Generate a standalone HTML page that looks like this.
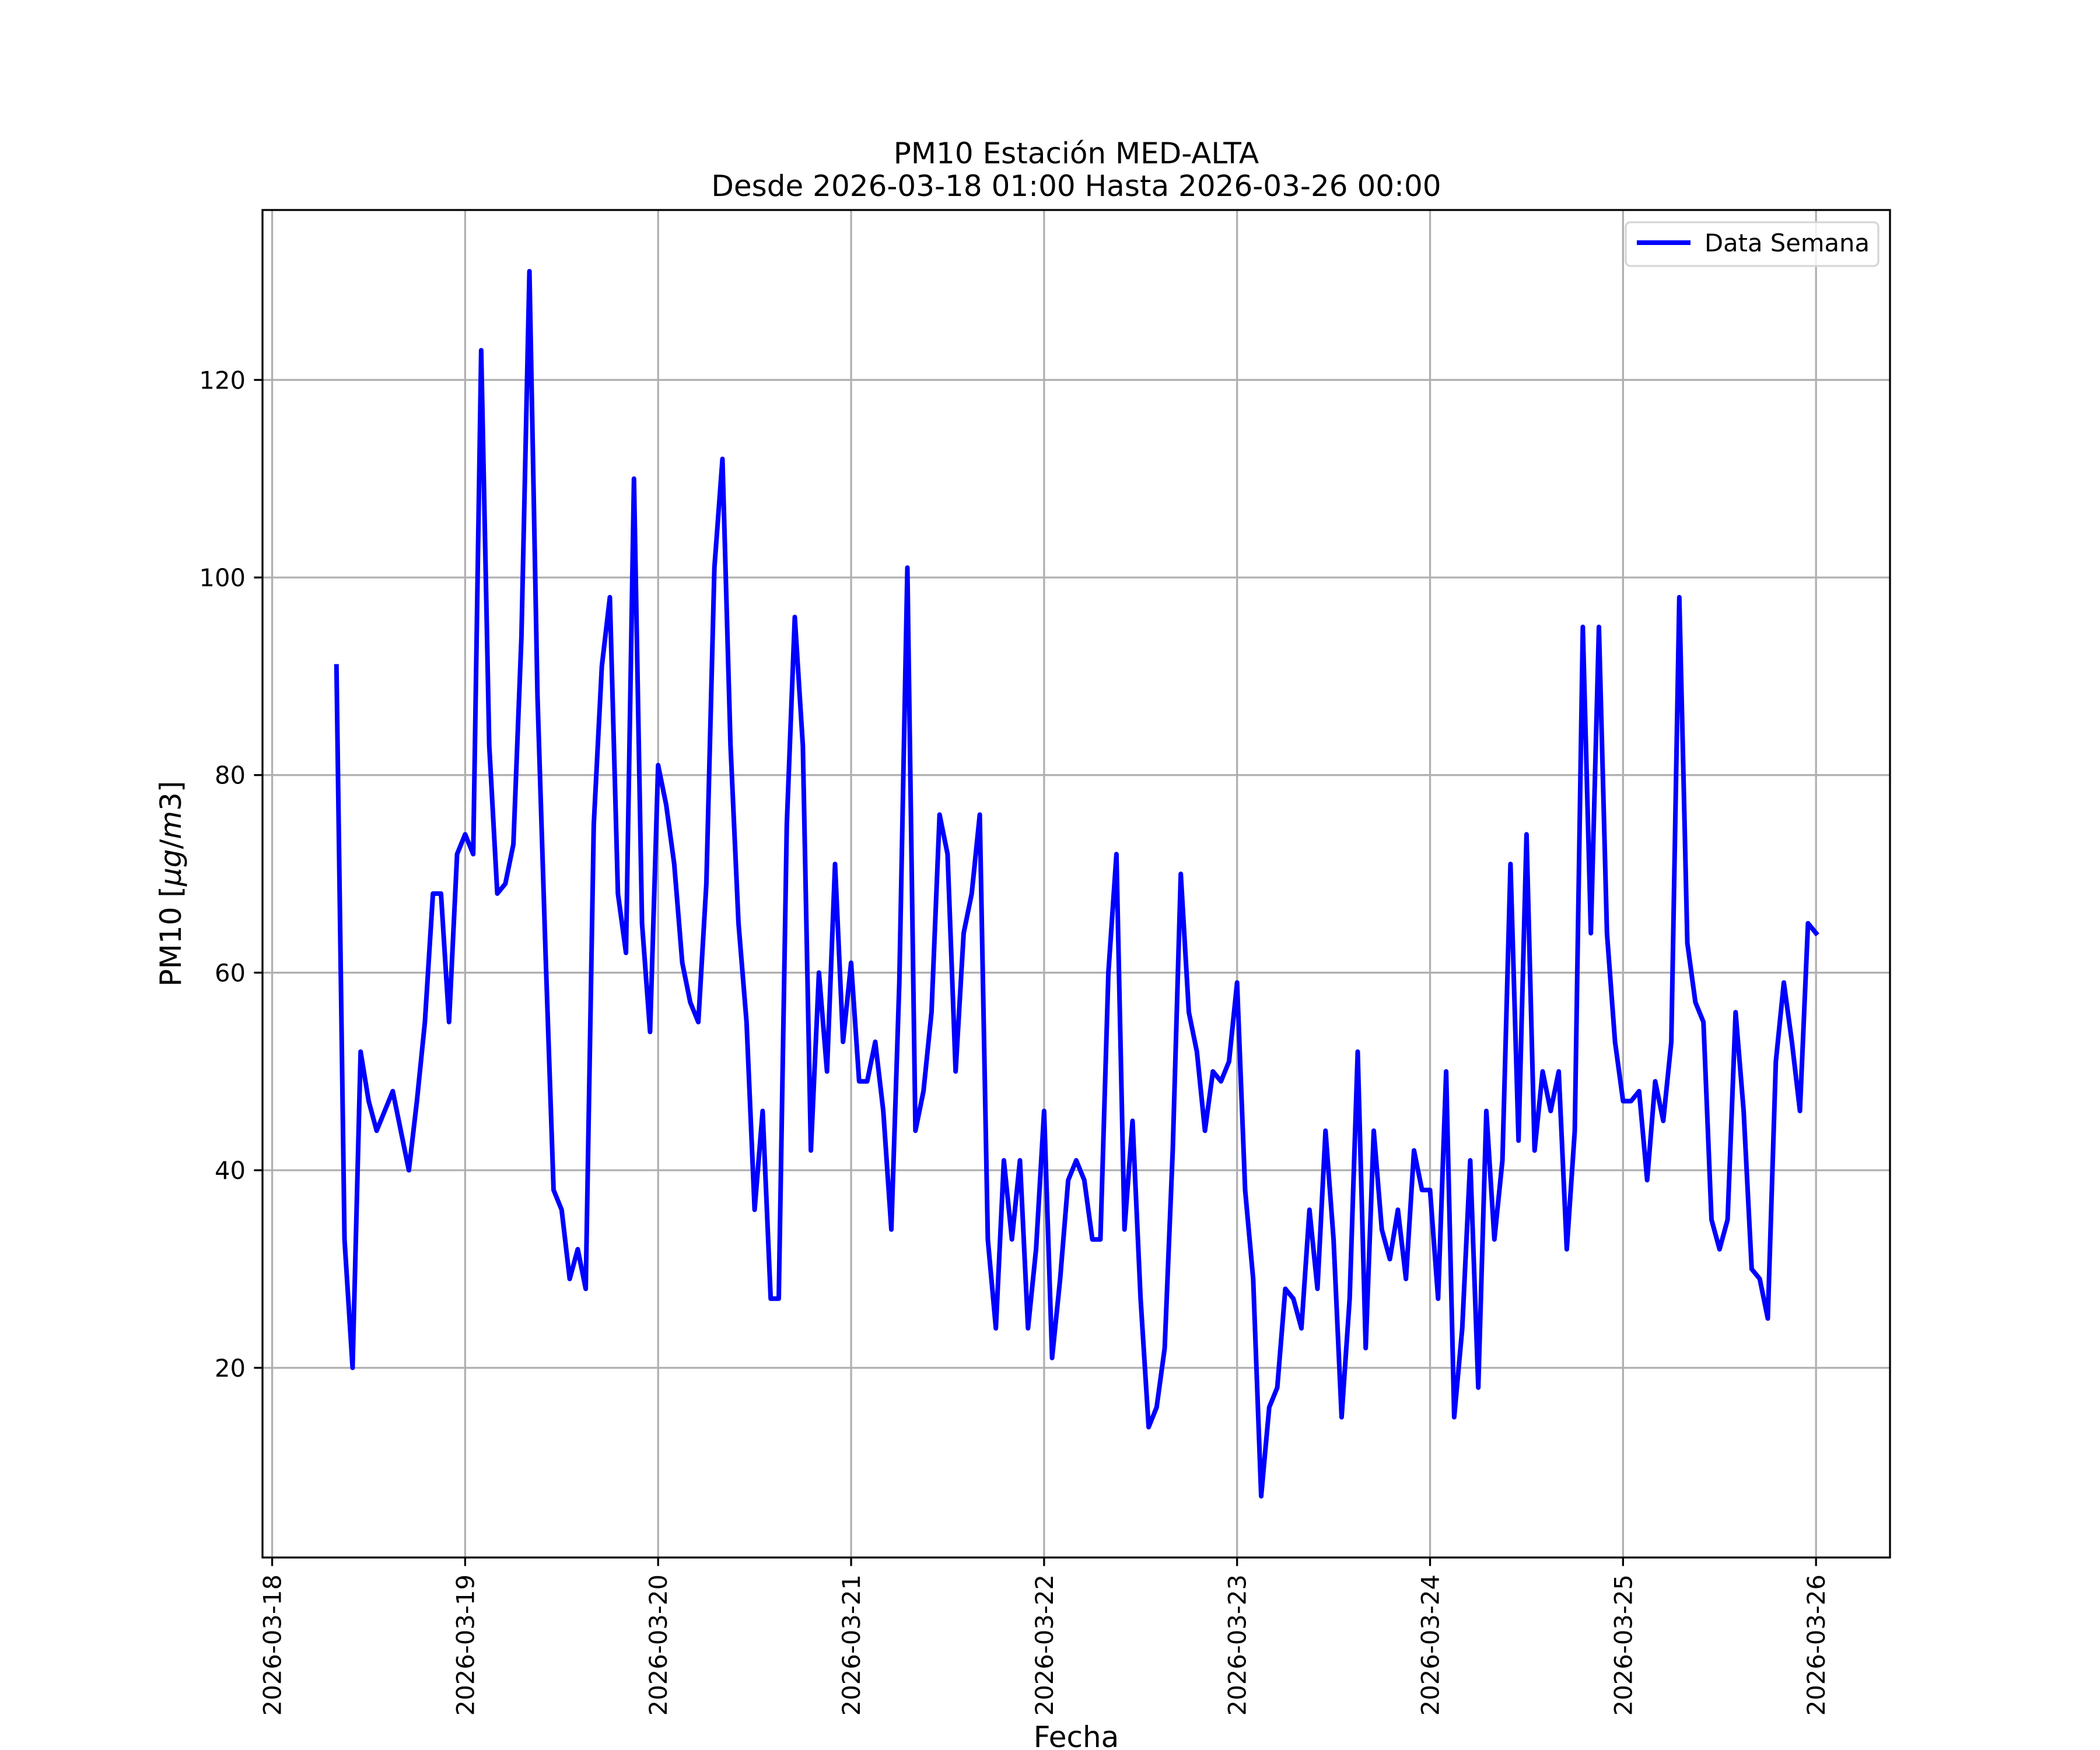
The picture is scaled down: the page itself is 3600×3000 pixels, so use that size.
<!DOCTYPE html>
<html><head><meta charset="utf-8">
<style>
html,body{margin:0;padding:0;background:#fff;}
svg{display:block;font-family:"DejaVu Sans","Liberation Sans",sans-serif;}
</style></head>
<body>
<svg id="chart" width="3600" height="3000" viewBox="0 0 3600 3000" xmlns="http://www.w3.org/2000/svg">
<rect width="3600" height="3000" fill="#fff"/>
<g id="grid"></g>
<g id="series"></g>
<rect x="450" y="360" width="2790" height="2310" fill="none" stroke="#000" stroke-width="3.3"/>
<g id="ticks"></g>
<text x="1845" y="280" font-size="50" text-anchor="middle">PM10 Estación MED-ALTA</text>
<text x="1845" y="336" font-size="50" text-anchor="middle">Desde 2026-03-18 01:00 Hasta 2026-03-26 00:00</text>
<text x="1845" y="2995" font-size="50" text-anchor="middle">Fecha</text>
<text transform="translate(310,1515) rotate(-90)" font-size="50" text-anchor="middle">PM10 [<tspan font-style="italic">μg</tspan>/<tspan font-style="italic">m</tspan>3]</text>
<g>
<rect x="2787" y="381" width="433" height="75" rx="8" fill="#fff" fill-opacity="0.8" stroke="#d6d6d6" stroke-width="3.3"/>
<line x1="2806" y1="416" x2="2898" y2="416" stroke="#0000ff" stroke-width="8"/>
<text x="2922" y="431" font-size="41.7">Data Semana</text>
</g>
</svg>
<script>
const hours = [];
for (let h = 8; h <= 192; h++) hours.push(h);
const values = [91,33,20,52,47,44,46,48,44,40,47,55,68,68,55,72,74,72,123,83,68,69,73,94,131,88,62,38,36,29,32,28,75,91,98,68,62,110,65,54,81,77,71,61,57,55,69,101,112,83,65,55,36,46,27,27,75,96,83,42,60,50,71,53,61,49,49,53,46,34,59,101,44,48,56,76,72,50,64,68,76,33,24,41,33,41,24,32,46,21,29,39,41,39,33,33,60,72,34,45,27,14,16,22,42,70,56,52,44,50,49,51,59,38,29,7,16,18,28,27,24,36,28,44,33,15,27,52,22,44,34,31,36,29,42,38,38,27,50,15,24,41,18,46,33,41,71,43,74,42,50,46,50,32,44,95,64,95,64,53,47,47,48,39,49,45,53,98,63,57,55,35,32,35,56,46,30,29,25,51,59,53,46,65,64];
const xTickLabels = ["2026-03-18","2026-03-19","2026-03-20","2026-03-21","2026-03-22","2026-03-23","2026-03-24","2026-03-25","2026-03-26"];
const yTicks = [20,40,60,80,100,120];

const L=450,R=3240,T=360,B=2670;
const xMin=-1.2,xMax=201.2,yMin=0.8,yMax=137.2;
const xs=h=>L+(h-xMin)/(xMax-xMin)*(R-L);
const ys=v=>B-(v-yMin)/(yMax-yMin)*(B-T);
const NS="http://www.w3.org/2000/svg";
const grid=document.getElementById('grid'),ticks=document.getElementById('ticks'),series=document.getElementById('series');
function mk(tag,attrs,parent){const e=document.createElementNS(NS,tag);for(const k in attrs)e.setAttribute(k,attrs[k]);parent.appendChild(e);return e;}

xTickLabels.forEach((lab,i)=>{
  const x=xs(i*24);
  const g=mk('line',{x1:x,y1:T,x2:x,y2:B,stroke:'#b0b0b0','stroke-width':3.3},grid);
  
  
  const t=mk('line',{x1:x,y1:B,x2:x,y2:B+14.6,stroke:'#000','stroke-width':3.3},ticks);
  
  
  const tx=mk('text',{transform:`translate(${x+15},${B+29}) rotate(-90)`,'font-size':41.7,'text-anchor':'end'},ticks);
  tx.textContent=lab;
  
  
});
yTicks.forEach(v=>{
  const y=ys(v);
  const g=mk('line',{x1:L,y1:y,x2:R,y2:y,stroke:'#b0b0b0','stroke-width':3.3},grid);
  
  
  const t=mk('line',{x1:L-14.6,y1:y,x2:L,y2:y,stroke:'#000','stroke-width':3.3},ticks);
  
  
  const tx=mk('text',{x:L-29,y:y+15,'font-size':41.7,'text-anchor':'end'},ticks);
  tx.textContent=String(v);
  
  
});
const pts=values.map((v,i)=>xs(hours[i]).toFixed(1)+','+ys(v).toFixed(1)).join(' ');
const line=mk('polyline',{points:pts,fill:'none',stroke:'#0000ff','stroke-width':8,'stroke-linejoin':'round','stroke-linecap':'square'},series);


</script>
</body></html>
